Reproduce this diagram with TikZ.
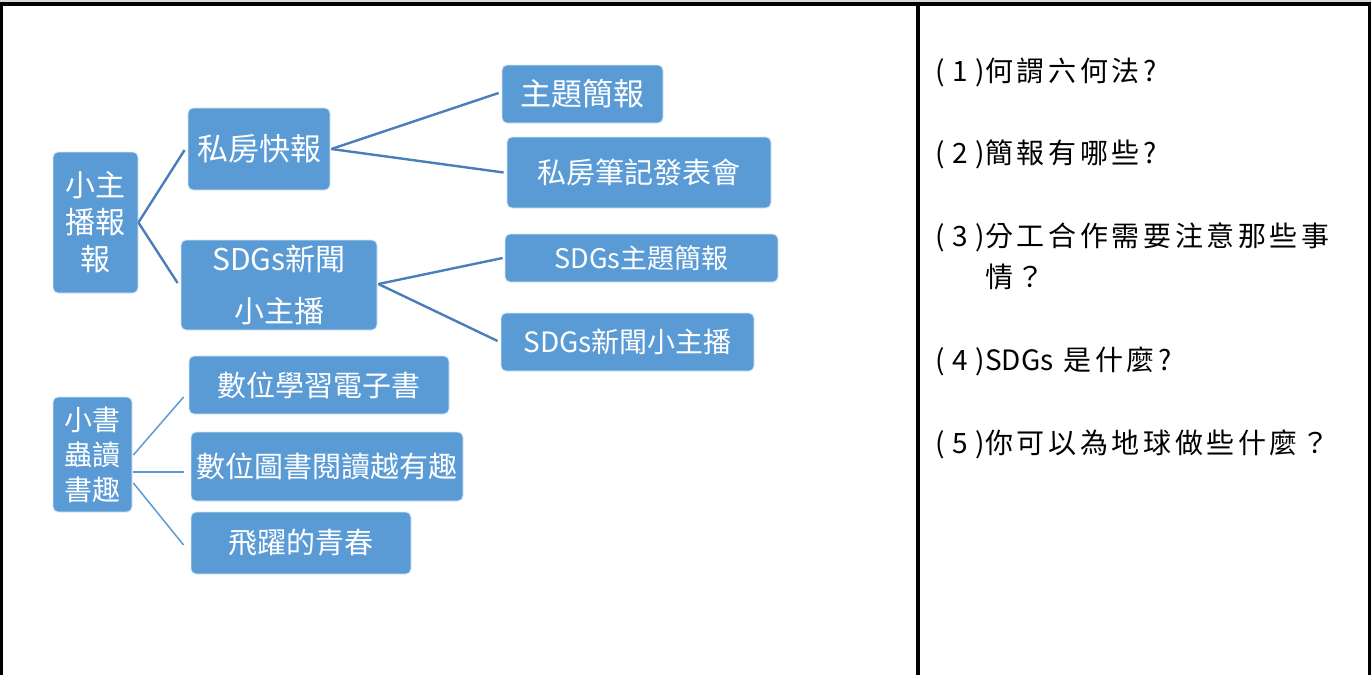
\documentclass[tikz,border=0pt]{standalone}
\usepackage{fontspec}
\usetikzlibrary{calc}
\newfontfamily\cjk{Noto Sans CJK TC}
\newfontfamily\cjkq[LetterSpace=13]{Noto Sans CJK TC}
\newcommand\qnum[1]{{\cjk\makebox[50pt][s]{(\hfil#1\hfil)}}}
\definecolor{boxblue}{HTML}{5B9BD5}
\definecolor{linkblue}{HTML}{4A7EBB}
\definecolor{topgray}{HTML}{D9D9D9}
\begin{document}
\begin{tikzpicture}[x=1pt,y=-1pt,
  box/.style={rectangle, rounded corners=5pt, fill=boxblue, draw=white!75!boxblue, line width=0.8pt, text=white, inner sep=0pt, align=center},
  linkA/.style={draw=linkblue, line width=2.4pt},
  linkB/.style={draw=boxblue, line width=1.5pt},
  qtext/.style={anchor=base west, inner sep=0pt, font=\cjkq\fontsize{28}{32}\selectfont}
]
\useasboundingbox (0,0) rectangle (1371,675);
% table frame
\fill[topgray] (0,0) rectangle (1371,2);
\fill[black] (0,2) rectangle (1371,6);
\fill[black] (0,2) rectangle (3,675);
\fill[black] (916,2) rectangle (920,675);
\fill[black] (1368,2) rectangle (1370.5,675);

% upper tree
\node[box, minimum width=85, minimum height=141, font=\cjk\fontsize{30}{37}\selectfont] (root) at (95.5,222.5) {小主\\播報\\報};
\node[box, minimum width=142, minimum height=82, font=\cjk\fontsize{31}{36}\selectfont] (pk) at (259,149) {私房快報};
\node[box, minimum width=196, minimum height=90, font=\cjk\fontsize{30}{52}\selectfont] (sn) at (279,285) {SDGs新聞\\小主播};
\node[box, minimum width=161, minimum height=58, font=\cjk\fontsize{31}{36}\selectfont] (zt) at (582.5,94) {主題簡報};
\node[box, minimum width=264, minimum height=71, font=\cjk\fontsize{29}{34}\selectfont] (bj) at (639,172.5) {私房筆記發表會};
\node[box, minimum width=273, minimum height=48, font=\cjk\fontsize{27}{32}\selectfont] (sz) at (641.5,258) {SDGs主題簡報};
\node[box, minimum width=253, minimum height=58, font=\cjk\fontsize{28}{32}\selectfont] (sx) at (627.5,342) {SDGs新聞小主播};

\draw[linkA] (root.east) -- ($(pk.west)+(-3,1)$);
\draw[linkA] (root.east) -- ($(sn.west)+(-3,-2)$);
\draw[linkA] ($(pk.east)+(1,0)$) -- ($(zt.west)+(-3,-1)$);
\draw[linkA] ($(pk.east)+(1,0)$) -- ($(bj.west)+(-3,0)$);
\draw[linkA] ($(sn.east)+(1,-1)$) -- ($(sz.west)+(-2,0)$);
\draw[linkA] ($(sn.east)+(1,-1)$) -- ($(sx.west)+(-3,-1)$);

% lower tree
\node[box, minimum width=79, minimum height=115, font=\cjk\fontsize{28}{35}\selectfont] (rb) at (92.5,454.5) {小書\\蟲讀\\書趣};
\node[box, minimum width=260, minimum height=58, font=\cjk\fontsize{29}{34}\selectfont] (dl) at (319,385) {數位學習電子書};
\node[box, minimum width=272, minimum height=69, font=\cjk\fontsize{29}{34}\selectfont] (dt) at (327,466.5) {數位圖書閱讀越有趣};
\node[box, minimum width=220, minimum height=62, font=\cjk\fontsize{29}{34}\selectfont] (fy) at (301,543) {飛躍的青春};

\draw[linkB] ($(rb.east)+(1,0.5)$) -- ($(dl.west)+(-5,12)$);
\draw[linkB] ($(rb.east)+(1,17.5)$) -- ($(dt.west)+(-7,5.5)$);
\draw[linkB] ($(rb.east)+(1,28.5)$) -- ($(fy.west)+(-7,2)$);

% questions
\node[qtext] (q1) at (935,81) {\qnum{1}何謂六何法?};
\node[qtext] (q2) at (935,163) {\qnum{2}簡報有哪些?};
\node[qtext] (q3) at (935,246) {\qnum{3}分工合作需要注意那些事};
\node[qtext] (q3b) at (985,287) {情？};
\node[qtext] (q4) at (935,370) {\qnum{4}{\cjk SDGs} 是什麼?};
\node[qtext] (q5) at (935,453) {\qnum{5}你可以為地球做些什麼？};
\end{tikzpicture}
\end{document}
